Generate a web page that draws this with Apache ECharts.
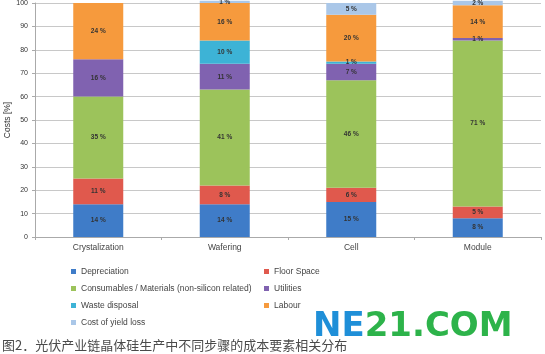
<!DOCTYPE html>
<html>
<head>
<meta charset="utf-8">
<script src="https://cdn.jsdelivr.net/npm/echarts@6/dist/echarts.min.js"></script>
<style>
  html, body { margin: 0; padding: 0; background: #fff; }
  #chart { width: 545px; height: 354px; }
</style>
</head>
<body>
<div id="chart"></div>
<script>
const steps = ['Crystalization', 'Wafering', 'Cell', 'Module'];
const depreciation = [14, 14, 15, 8];
const floorSpace = [11, 8, 6, 5];
const consumables = [35, 41, 46, 71];
const utilities = [16, 11, 7, 1];
const wasteDisposal = [0, 10, 1, 0];
const labour = [24, 16, 20, 14];
const yieldLoss = [0, 1, 5, 2];
const yTicks = [0, 10, 20, 30, 40, 50, 60, 70, 80, 90, 100];

const seriesDefs = [
    { name: 'Depreciation', data: depreciation, color: '#3f7cc8' },
    { name: 'Floor Space', data: floorSpace, color: '#e0594d' },
    { name: 'Consumables / Materials (non-silicon related)', data: consumables, color: '#9cc35b' },
    { name: 'Utilities', data: utilities, color: '#8062b0' },
    { name: 'Waste disposal', data: wasteDisposal, color: '#3db3d6' },
    { name: 'Labour', data: labour, color: '#f69a3d' },
    { name: 'Cost of yield loss', data: yieldLoss, color: '#aac7e8' },
];

const chart = echarts.init(document.getElementById('chart'));

const legendText = { fontSize: 8.5, color: '#444', fontFamily: 'Liberation Sans' };

chart.setOption({
    animation: false,
    grid: { left: 35, right: 4, top: 3, bottom: 117, outerBoundsMode: 'none' },
    xAxis: {
        type: 'category',
        data: steps,
        axisLine: { lineStyle: { color: '#aaa' } },
        axisTick: { show: true, length: 3, lineStyle: { color: '#aaa' } },
        axisLabel: { fontSize: 8.5, color: '#444', margin: 6, fontFamily: 'Liberation Sans' },
    },
    yAxis: {
        type: 'value',
        min: 0,
        max: 100,
        interval: 10,
        name: 'Costs [%]',
        nameLocation: 'middle',
        nameGap: 23,
        nameMoveOverlap: false,
        nameTextStyle: { fontSize: 8.5, color: '#333', fontFamily: 'Liberation Sans' },
        axisLine: { show: true, lineStyle: { color: '#aaa' } },
        axisTick: { show: true, length: 3, lineStyle: { color: '#aaa' } },
        splitLine: { lineStyle: { color: '#c8c8c8' } },
        axisLabel: {
            fontSize: 7,
            color: '#333',
            margin: 7,
            fontFamily: 'Liberation Sans',
            formatter: (v) => (yTicks.includes(v) ? String(v) : ''),
        },
    },
    legend: [
        {
            orient: 'vertical',
            left: 66,
            top: 262,
            itemWidth: 5,
            itemHeight: 5,
            itemGap: 8,
            icon: 'rect',
            textStyle: legendText,
            data: [seriesDefs[0].name, seriesDefs[2].name, seriesDefs[4].name, seriesDefs[6].name],
        },
        {
            orient: 'vertical',
            left: 259,
            top: 262,
            itemWidth: 5,
            itemHeight: 5,
            itemGap: 8,
            icon: 'rect',
            textStyle: legendText,
            data: [seriesDefs[1].name, seriesDefs[3].name, seriesDefs[5].name],
        },
    ],
    graphic: [
        {
            type: 'text',
            left: 2,
            top: 339,
            style: {
                text: '图2．光伏产业链晶体硅生产中不同步骤的成本要素相关分布',
                font: '13px "Noto Sans CJK SC"',
                fill: '#4a4a4a',
            },
        },
        {
            type: 'text',
            left: 313,
            top: 310,
            z: 10,
            style: {
                text: '{a|NE}{b|21.COM}',
                rich: {
                    a: { fontSize: 34, fontWeight: 'bold', fontFamily: 'DejaVu Sans', fill: '#1f8fd8' },
                    b: { fontSize: 34, fontWeight: 'bold', fontFamily: 'DejaVu Sans', fill: '#2db34a' },
                },
            },
        },
    ],
    series: seriesDefs.map((s) => ({
        name: s.name,
        type: 'bar',
        stack: 'total',
        barWidth: 50,
        clip: false,
        data: s.data,
        itemStyle: { color: s.color },
        label: {
            show: true,
            position: 'inside',
            fontSize: 6.5,
            fontWeight: 'bold',
            color: '#333',
            fontFamily: 'Liberation Sans',
            formatter: (p) => (p.value ? p.value + ' %' : ''),
        },
    })),
});
</script>
</body>
</html>
